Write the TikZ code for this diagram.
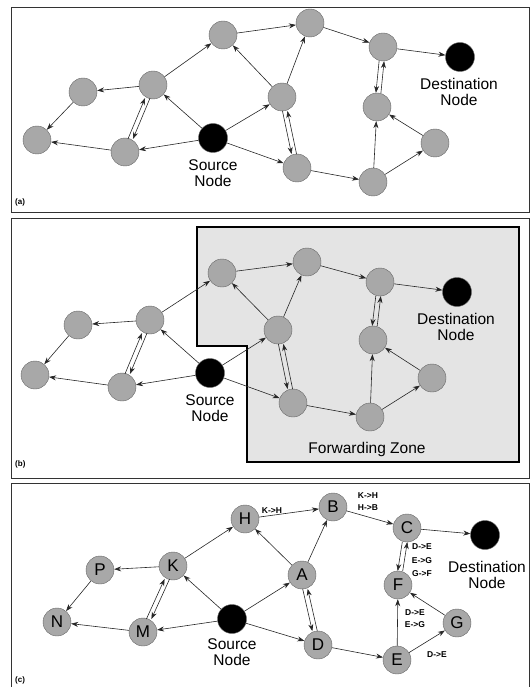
\documentclass[tikz,border=0pt]{standalone}
\usepackage{fontspec}
\setmainfont{Liberation Sans}
\usetikzlibrary{arrows.meta}
\definecolor{nodegray}{HTML}{A8A8A8}
\definecolor{zonegray}{HTML}{E4E4E4}
\tikzset{
  gnode/.style={circle,draw=black!60,fill=nodegray,minimum size=28pt,inner sep=0pt,font=\fontsize{17}{17}\selectfont},
  snode/.style={circle,draw=black!60,fill=black,minimum size=29pt,inner sep=0pt},
  arr/.style={draw=black!85,line width=0.6pt,-{Stealth[length=7pt,width=5pt]}},
  lbl/.style={font=\fontsize{15.5}{15.5}\selectfont,align=center,inner sep=0pt},
  elbl/.style={font=\bfseries\fontsize{8.5}{9}\selectfont,inner sep=0pt},
  plbl/.style={font=\bfseries\fontsize{8}{8}\selectfont,anchor=west,inner sep=0pt},
  panel/.style={draw=black!80,line width=0.9pt},
}

\begin{document}
\begin{tikzpicture}[x=1pt,y=-1pt]
  \useasboundingbox (0,0) rectangle (530,687);
  % panels
  \draw[panel] (11,7) rectangle (529,212);
  \draw[panel] (11,218) rectangle (529,478);
  \draw[panel] (11,483) rectangle (529,692);

  % (a) flooding
  \begin{scope}
  \foreach \n/\x/\y in {H/223/35,B/310/23,C/383/47,K/153/85,P/83/92,A/282/97,F/377/107,
                        N/37/140,M/125/152,G/435/143,D/297/168,E/373/182}
    \node[gnode] (a\n) at (\x,\y) {};
  \node[snode] (aT) at (460,57) {};
  \node[snode] (aS) at (213,138) {};
  \node[lbl] (aTl) at (459,92) {Destination\\Node};
  \node[lbl] (aSl) at (213,173) {Source\\Node};
  \node[plbl] (alab) at (15,202) {(a)};
  \foreach \s/\t in {K/H,H/B,B/C,C/T,K/P,P/N,M/N,S/M,S/K,A/H,A/B,S/A,S/D,D/E,E/F,E/G,G/F}
    \draw[arr] (a\s) -- (a\t);
  \draw[arr,transform canvas={xshift=-2.5pt}] (aM) -- (aK);
  \draw[arr,transform canvas={xshift=2.5pt}] (aK) -- (aM);
  \draw[arr,transform canvas={xshift=-2.5pt}] (aA) -- (aD);
  \draw[arr,transform canvas={xshift=2.5pt}] (aD) -- (aA);
  \draw[arr,transform canvas={xshift=-2.5pt}] (aC) -- (aF);
  \draw[arr,transform canvas={xshift=2.5pt}] (aF) -- (aC);
  \end{scope}

  % (b) forwarding zone
  \begin{scope}
  \draw[fill=zonegray,line width=1.6pt] (197,227) -- (519,227) -- (519,462) -- (247,462)
       -- (247,346) -- (197,346) -- cycle;
  \foreach \n/\x/\y in {H/222/273,B/307/262,C/380/282,K/150/320,P/78/325,A/278/330,F/373/340,
                        N/35/375,M/122/387,G/432/378,D/293/403,E/370/417}
    \node[gnode] (b\n) at (\x,\y) {};
  \node[snode] (bT) at (457,292) {};
  \node[snode] (bS) at (210,373) {};
  \node[lbl] (bTl) at (456,327) {Destination\\Node};
  \node[lbl] (bSl) at (210,408) {Source\\Node};
  \node[lbl] (bzone) at (367,449) {Forwarding Zone};
  \node[plbl] (blab) at (15,464) {(b)};
  \foreach \s/\t in {K/H,H/B,B/C,C/T,K/P,P/N,M/N,S/M,S/K,A/H,A/B,S/A,S/D,D/E,E/F,E/G,G/F}
    \draw[arr] (b\s) -- (b\t);
  \draw[arr,transform canvas={xshift=-2.5pt}] (bM) -- (bK);
  \draw[arr,transform canvas={xshift=2.5pt}] (bK) -- (bM);
  \draw[arr,transform canvas={xshift=-2.5pt}] (bA) -- (bD);
  \draw[arr,transform canvas={xshift=2.5pt}] (bD) -- (bA);
  \draw[arr,transform canvas={xshift=-2.5pt}] (bC) -- (bF);
  \draw[arr,transform canvas={xshift=2.5pt}] (bF) -- (bC);
  \end{scope}

  % (c) named nodes with route records
  \begin{scope}
  \foreach \n/\x/\y in {H/245/519,B/333/507,C/407/528,P/100/570,K/173/566,A/302/575,F/398/585,
                        N/57/622,M/143/632,G/457/623,D/318/645,E/397/660}
    \node[gnode] (c\n) at (\x,\y) {\n};
  \node[snode] (cT) at (485,535) {};
  \node[snode] (cS) at (232,619) {};
  \node[lbl] (cTl) at (487,575) {Destination\\Node};
  \node[lbl] (cSl) at (232,652) {Source\\Node};
  \node[plbl] (clab) at (15,680) {(c)};
  \foreach \s/\t in {K/H,H/B,B/C,C/T,K/P,P/N,M/N,S/M,S/K,A/H,A/B,S/A,S/D,D/E,E/F,E/G,G/F}
    \draw[arr] (c\s) -- (c\t);
  \draw[arr,transform canvas={xshift=-2.5pt}] (cM) -- (cK);
  \draw[arr,transform canvas={xshift=2.5pt}] (cK) -- (cM);
  \draw[arr,transform canvas={xshift=-2.5pt}] (cA) -- (cD);
  \draw[arr,transform canvas={xshift=2.5pt}] (cD) -- (cA);
  \draw[arr,transform canvas={xshift=-2.5pt}] (cC) -- (cF);
  \draw[arr,transform canvas={xshift=2.5pt}] (cF) -- (cC);
  \node[elbl] (r1) at (272,511) {K->H};
  \node[elbl] (r2) at (368,496) {K->H};
  \node[elbl] (r3) at (368,508) {H->B};
  \node[elbl] (r4) at (422,547) {D->E};
  \node[elbl] (r5) at (422,561) {E->G};
  \node[elbl] (r6) at (422,574) {G->F};
  \node[elbl] (r7) at (415,613) {D->E};
  \node[elbl] (r8) at (415,625) {E->G};
  \node[elbl] (r9) at (437,655) {D->E};
  \end{scope}
\end{tikzpicture}
\end{document}
